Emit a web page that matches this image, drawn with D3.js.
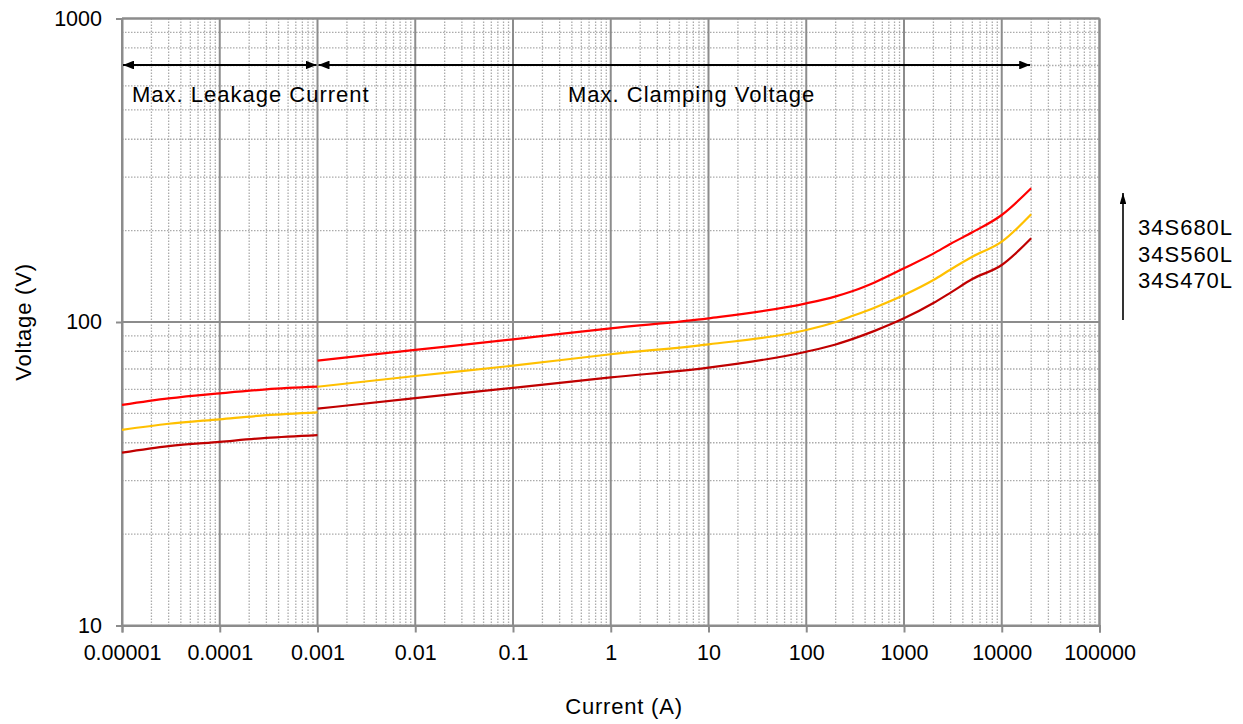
<!DOCTYPE html>
<html><head><meta charset="utf-8">
<script src="https://cdn.jsdelivr.net/npm/d3@7"></script>
<style>
html,body{margin:0;padding:0;background:#fff;}
text{font-family:"Liberation Sans",Arial,sans-serif;fill:#000;}
</style></head>
<body><svg id="c" width="1243" height="724"></svg>
<script>
// ---- data ----
const seriesNames = ["34S680L", "34S560L", "34S470L"];
const seriesColors = ["#FF0000", "#FFC000", "#C00000"];
const leakCurrent = [1e-5, 3e-5, 1e-4, 3e-4, 1e-3];
const leak680 = [53.3, 56.0, 58.2, 60.0, 61.2];
const leak560 = [44.1, 46.2, 47.8, 49.3, 50.4];
const leak470 = [37.1, 39.0, 40.3, 41.5, 42.4];
const clampCurrent = [1e-3, 0.01, 0.1, 1, 10, 100, 200, 300, 500, 1000, 2000, 3000, 5000, 10000, 20000];
const clamp680 = [74.6, 80.9, 87.7, 95.3, 102.8, 115.2, 121.5, 126.5, 135, 150.3, 168, 181, 197.5, 225.2, 275.8];
const clamp560 = [61.2, 66.4, 71.8, 78.3, 84.4, 94.1, 100.0, 104.8, 111.5, 122.7, 137.5, 149, 164, 183.9, 226.4];
const clamp470 = [51.8, 56.1, 60.7, 65.7, 70.7, 79.8, 84.3, 88.0, 93.5, 102.8, 115.5, 125, 138.5, 154.1, 188.8];
const xTicks = [1e-5, 1e-4, 1e-3, 1e-2, 1e-1, 1, 10, 100, 1000, 10000, 100000];
const xTickLabels = ["0.00001", "0.0001", "0.001", "0.01", "0.1", "1", "10", "100", "1000", "10000", "100000"];
const yTicks = [10, 100, 1000];
const yTickLabels = ["10", "100", "1000"];
const regionBounds = [[1e-5, 1e-3], [1e-3, 2e4]];
const regionLabels = ["Max. Leakage Current", "Max. Clamping Voltage"];

// ---- layout ----
const L = 122, R = 1099.5, T = 18.5, B = 625.5;
const svg = d3.select("#c");
const x = d3.scaleLog().domain([1e-5, 1e5]).range([L, R]);
const y = d3.scaleLog().domain([10, 1000]).range([B, T]);

// minor grid
const minorX = [];
for (let e = -5; e < 5; e++) for (let m = 2; m <= 9; m++) minorX.push(m * Math.pow(10, e));
const minorY = [];
for (let e = 1; e < 3; e++) for (let m = 2; m <= 9; m++) minorY.push(m * Math.pow(10, e));
const g = svg.append("g");
g.selectAll(".mx").data(minorX).join("line")
  .attr("x1", d => x(d)).attr("x2", d => x(d)).attr("y1", T).attr("y2", B)
  .attr("stroke", "#ababab").attr("stroke-width", 1.3).attr("stroke-dasharray", "1.5,1.5");
g.selectAll(".my").data(minorY).join("line")
  .attr("y1", d => y(d)).attr("y2", d => y(d)).attr("x1", L).attr("x2", R)
  .attr("stroke", "#ababab").attr("stroke-width", 1.3).attr("stroke-dasharray", "1.5,1.5");
// major grid
g.selectAll(".Mx").data(xTicks).join("line")
  .attr("x1", d => x(d)).attr("x2", d => x(d)).attr("y1", T).attr("y2", B)
  .attr("stroke", "#8c8c8c").attr("stroke-width", 2);
g.selectAll(".My").data(yTicks).join("line")
  .attr("y1", d => y(d)).attr("y2", d => y(d)).attr("x1", L).attr("x2", R)
  .attr("stroke", "#8c8c8c").attr("stroke-width", 2);

// axes
const xAxis = d3.axisBottom(x).tickValues(xTicks).tickFormat((d, i) => xTickLabels[i]).tickSize(7).tickPadding(12);
const xa = svg.append("g").attr("transform", `translate(0,${B})`).call(xAxis);
xa.select(".domain").attr("stroke", "#8c8c8c").attr("stroke-width", 2);
xa.selectAll(".tick line").attr("stroke", "#8c8c8c").attr("stroke-width", 2);
xa.selectAll(".tick text").style("font-size", "21.5px").style("font-family", "Liberation Sans, Arial, sans-serif");
const yAxis = d3.axisLeft(y).tickValues(yTicks).tickFormat((d, i) => yTickLabels[i]).tickSize(6).tickPadding(14);
const ya = svg.append("g").attr("transform", `translate(${L},0)`).call(yAxis);
ya.select(".domain").attr("stroke", "#8c8c8c").attr("stroke-width", 2);
ya.selectAll(".tick line").attr("stroke", "#8c8c8c").attr("stroke-width", 2);
ya.selectAll(".tick text").style("font-size", "21.5px").style("font-family", "Liberation Sans, Arial, sans-serif");
// border top/right
svg.append("line").attr("x1", L).attr("x2", R).attr("y1", T).attr("y2", T).attr("stroke", "#8c8c8c").attr("stroke-width", 2);
svg.append("line").attr("x1", R).attr("x2", R).attr("y1", T).attr("y2", B).attr("stroke", "#8c8c8c").attr("stroke-width", 2);

// axis titles
svg.append("text").attr("x", 624).attr("y", 714).attr("text-anchor", "middle")
  .style("font-size", "22px").style("letter-spacing", "0.8px").text("Current (A)");
svg.append("text").attr("transform", `translate(31,${(T + B) / 2}) rotate(-90)`).attr("text-anchor", "middle")
  .style("font-size", "22px").style("letter-spacing", "0.8px").text("Voltage (V)");

// series
const line = d3.line().x(d => x(d[0])).y(d => y(d[1])).curve(d3.curveMonotoneX);
const leakSets = [leak680, leak560, leak470];
const clampSets = [clamp680, clamp560, clamp470];
seriesNames.forEach((n, i) => {
  svg.append("path").datum(leakCurrent.map((c, j) => [c, leakSets[i][j]]))
    .attr("d", line).attr("fill", "none").attr("stroke", seriesColors[i]).attr("stroke-width", 2.2);
  svg.append("path").datum(clampCurrent.map((c, j) => [c, clampSets[i][j]]))
    .attr("d", line).attr("fill", "none").attr("stroke", seriesColors[i]).attr("stroke-width", 2.2);
});

// region arrows
const defs = svg.append("defs");
defs.append("marker").attr("id", "ah").attr("viewBox", "0 0 10 8").attr("refX", 10).attr("refY", 4)
  .attr("markerWidth", 5.5).attr("markerHeight", 4.4).attr("orient", "auto-start-reverse").attr("markerUnits", "strokeWidth")
  .append("path").attr("d", "M0,0 L10,4 L0,8 z").attr("fill", "#000");
const arrowY = 65;
regionBounds.forEach((b, i) => {
  svg.append("line").attr("x1", x(b[0]) + 1).attr("x2", x(b[1]) - 1).attr("y1", arrowY).attr("y2", arrowY)
    .attr("stroke", "#000").attr("stroke-width", 2)
    .attr("marker-start", "url(#ah)").attr("marker-end", "url(#ah)");
});
svg.append("text").attr("x", 132).attr("y", 102).style("font-size", "22px").style("letter-spacing", "1px").text(regionLabels[0]);
svg.append("text").attr("x", 568).attr("y", 102).style("font-size", "22px").style("letter-spacing", "1px").text(regionLabels[1]);

// legend arrow
defs.append("marker").attr("id", "ah2").attr("viewBox", "0 0 10 6").attr("refX", 10).attr("refY", 3)
  .attr("markerWidth", 7).attr("markerHeight", 4.2).attr("orient", "auto").attr("markerUnits", "strokeWidth")
  .append("path").attr("d", "M0,0 L10,3 L0,6 z").attr("fill", "#000");
svg.append("line").attr("x1", 1123).attr("x2", 1123).attr("y1", 320).attr("y2", 193)
  .attr("stroke", "#000").attr("stroke-width", 1.6).attr("marker-end", "url(#ah2)");
seriesNames.forEach((n, i) => {
  svg.append("text").attr("x", 1138).attr("y", 235 + i * 26.5)
    .style("font-size", "22px").style("letter-spacing", "1px").text(n);
});
</script></body></html>
